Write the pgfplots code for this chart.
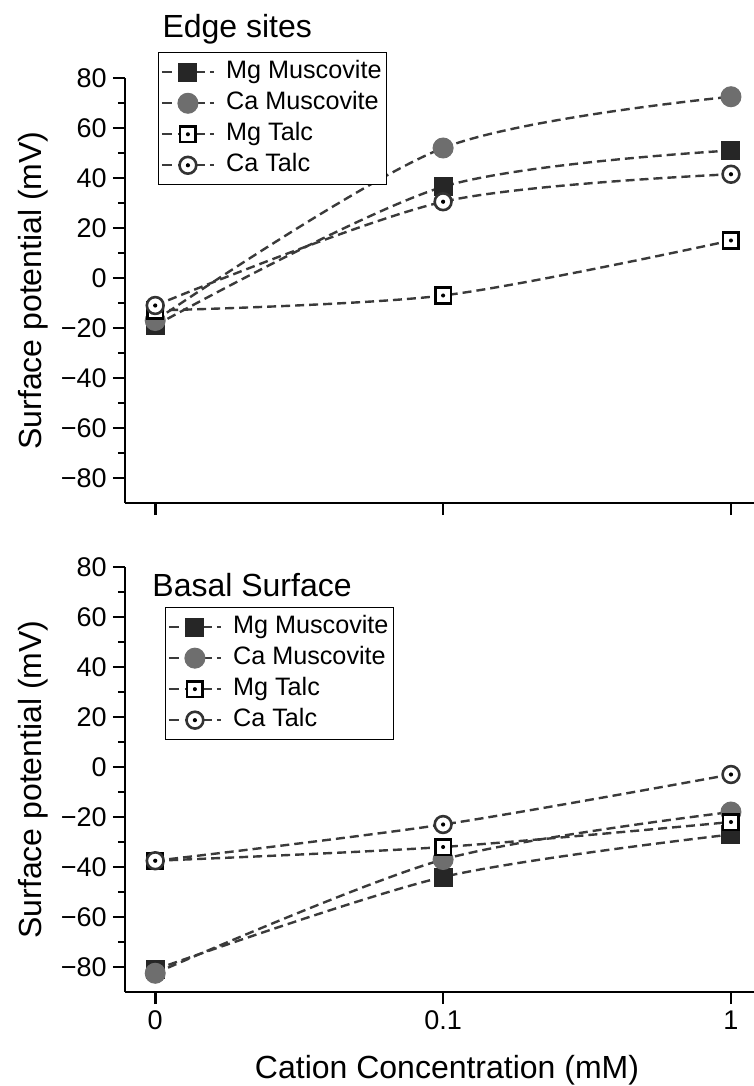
\documentclass[border=0pt]{standalone}
\usepackage{fontspec}
\setmainfont{Liberation Sans}
\usepackage{pgfplots}
\pgfplotsset{compat=1.18}

\definecolor{lncol}{HTML}{3A3A3A}
\definecolor{sqfill}{HTML}{262626}
\definecolor{circfill}{HTML}{6E6E6E}
\definecolor{ringcol}{HTML}{333333}

% open square / open circle with a dot in the middle
\pgfdeclareplotmark{sqdot}{%
  \pgfpathrectangle{\pgfqpoint{-\pgfplotmarksize}{-\pgfplotmarksize}}{\pgfqpoint{2\pgfplotmarksize}{2\pgfplotmarksize}}%
  \pgfusepath{fill,stroke}%
  \pgfscope
  \pgfpathcircle{\pgfpointorigin}{0.26\pgfplotmarksize}%
  \pgfsetfillcolor{black}%
  \pgfusepath{fill}%
  \endpgfscope
}
\pgfdeclareplotmark{cdot}{%
  \pgfpathcircle{\pgfpointorigin}{\pgfplotmarksize}%
  \pgfusepath{fill,stroke}%
  \pgfscope
  \pgfpathcircle{\pgfpointorigin}{0.25\pgfplotmarksize}%
  \pgfsetfillcolor{black}%
  \pgfusepath{fill}%
  \endpgfscope
}

\pgfplotsset{
  panel/.style={
    scale only axis, width=314.5pt, height=212.5pt,
    xmin=-0.105, xmax=2.08, ymin=-90, ymax=80,
    clip=false,
    axis x line=bottom, axis y line=left,
    axis line style={-, line width=1.3pt, black},
    xtick={0,1,2},
    ytick={-80,-60,...,80},
    yticklabels={−80,−60,−40,−20,0,20,40,60,80},
    minor y tick num=1,
    tick align=outside,
    major tick length=6pt, minor tick length=3.5pt,
    tick style={black, line width=1.3pt},
    tick label style={font=\fontsize{13.5}{16}\selectfont},
    yticklabel style={inner sep=3pt},
    label style={font=\fontsize{16}{19}\selectfont},
    ylabel={Surface potential (mV)},
    ylabel style={at={(axis description cs:-0.146,0.5)}, anchor=center},
    legend cell align=left,
    legend image code/.code={%
      \draw[mark repeat=2, mark phase=2, #1, dash pattern=on 5pt off 3pt]
        plot coordinates {(0pt,0pt) (13pt,0pt) (26pt,0pt)};},
    legend style={anchor=north west, draw=black, line width=0.7pt,
      font=\fontsize{12.6}{14}\selectfont,
      inner xsep=1pt, inner ysep=2pt, row sep=0pt, column sep=4pt,
      nodes={inner sep=1.5pt, text height=9.5pt, text depth=3pt}},
    every axis plot/.append style={lncol, line width=1.2pt,
      dash pattern=on 4.5pt off 2.5pt, smooth},
  },
  mgmus/.style={mark=square*, mark size=4.5pt,
    mark options={solid, fill=sqfill, draw=sqfill, line width=0.5pt}},
  camus/.style={mark=*, mark size=5pt,
    mark options={solid, fill=circfill, draw=circfill, line width=0.5pt}},
  mgtalc/.style={mark=sqdot, mark size=3.9pt,
    mark options={solid, fill=white, draw=black, line width=1.3pt}},
  catalc/.style={mark=cdot, mark size=4.2pt,
    mark options={solid, fill=white, draw=ringcol, line width=1.3pt}},
}

\begin{document}
\begin{tikzpicture}
% Edge sites
\begin{axis}[panel, name=top, at={(0,0)}, anchor=south west,
  xticklabels={,,},
  legend style={at={(0.0525,1.061)}}]
\addplot[mgmus]  coordinates {(0,-19) (1,36.5) (2,51)};
\addlegendentry{Mg Muscovite}
\addplot[camus]  coordinates {(0,-17) (1,52) (2,72.5)};
\addlegendentry{Ca Muscovite}
\addplot[mgtalc] coordinates {(0,-13) (1,-7) (2,15)};
\addlegendentry{Mg Talc}
\addplot[catalc] coordinates {(0,-11) (1,30.5) (2,41.5)};
\addlegendentry{Ca Talc}
\node[anchor=base west, font=\fontsize{16}{18}\selectfont, inner sep=0pt]
  at (rel axis cs:0.059,1.096) {Edge sites};
\end{axis}

% Basal surface
\begin{axis}[panel, name=bot, at={(0,-244.5pt)}, anchor=south west,
  xticklabels={0,0.1,1},
  xlabel={Cation Concentration (mM)},
  xlabel style={at={(axis description cs:0.512,-0.183)}, anchor=center},
  legend style={at={(0.0636,0.906)}}]
\addplot[mgmus]  coordinates {(0,-81) (1,-44) (2,-27)};
\addlegendentry{Mg Muscovite}
\addplot[camus]  coordinates {(0,-82.5) (1,-37) (2,-18)};
\addlegendentry{Ca Muscovite}
\addplot[mgtalc] coordinates {(0,-37.5) (1,-32) (2,-22)};
\addlegendentry{Mg Talc}
\addplot[catalc] coordinates {(0,-37.5) (1,-23) (2,-3)};
\addlegendentry{Ca Talc}
\node[anchor=base west, font=\fontsize{16}{18}\selectfont, inner sep=0pt]
  at (rel axis cs:0.043,0.93) {Basal Surface};
\end{axis}

\pgfresetboundingbox
\path[use as bounding box] (-62.5pt,-291.5pt) rectangle (314.5pt,251.5pt);
\end{tikzpicture}
\end{document}
